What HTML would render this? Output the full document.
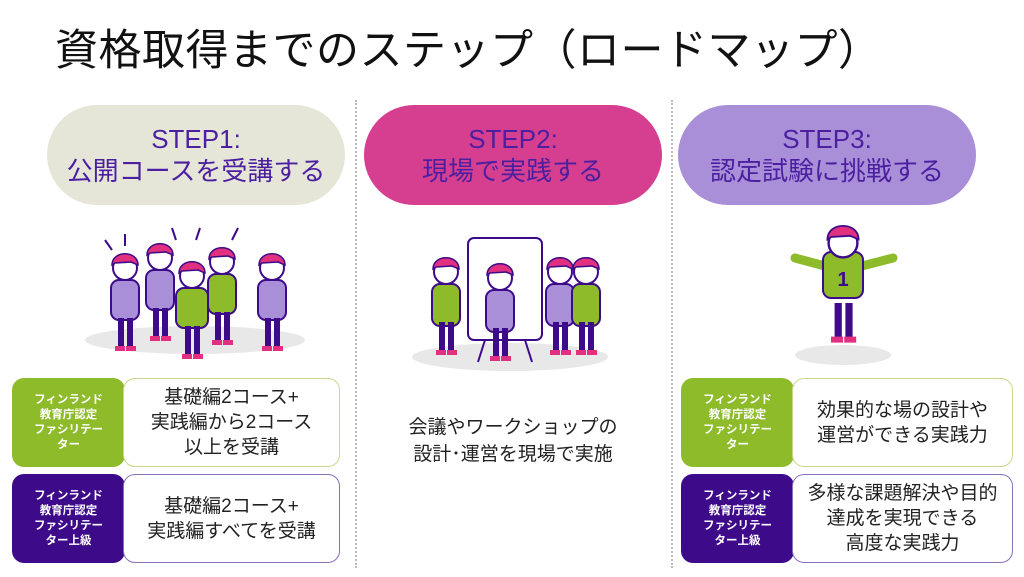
<!DOCTYPE html>
<html><head><meta charset="utf-8"><style>
body{margin:0;width:1024px;height:577px;background:#fff;position:relative;overflow:hidden;font-family:"Liberation Sans","Noto Sans CJK JP",sans-serif}
.t{position:absolute;left:55px;top:16px;font-size:43px;color:#111;letter-spacing:0.5px;white-space:nowrap}
.vl{position:absolute;top:100px;height:468px;border-left:2px dotted #bbb}
.pill{position:absolute;top:105px;height:100px;border-radius:50px;color:#4b1fa0;text-align:center;font-size:26px;line-height:32px;display:flex;flex-direction:column;justify-content:center}
.lab{position:absolute;width:113px;height:89px;border-radius:12px;color:#fff;font-size:11.5px;line-height:15px;font-weight:bold;text-align:center;display:flex;align-items:center;justify-content:center}
.box{position:absolute;height:87px;border-radius:12px;background:#fff;display:flex;align-items:center;justify-content:center;text-align:center;font-size:19px;line-height:25px;color:#222}
.g{background:#8dbb2a}.p{background:#3d0a8a}
</style></head><body>
<div class="t">資格取得までのステップ（ロードマップ）</div>
<div class="vl" style="left:355px"></div>
<div class="vl" style="left:671px"></div>
<div class="pill" style="left:47px;width:298px;background:#e6e6d8">STEP1:<br>公開コースを受講する</div>
<div class="pill" style="left:364px;width:298px;background:#d63f90">STEP2:<br>現場で実践する</div>
<div class="pill" style="left:678px;width:298px;background:#a98fd8">STEP3:<br>認定試験に挑戦する</div>

<svg style="position:absolute;left:0;top:0" width="1024" height="577">
<defs>
<g id="pp">
<circle cx="0" cy="0" r="12" fill="#fff" stroke="#3d0a8a" stroke-width="2"/>
<path d="M-13,-3 C-13,-18 13,-18 13,-3 L6,-6 L-10,-5Z" fill="#e0307f" stroke="#3d0a8a" stroke-width="1.5"/>
<rect x="-7" y="50" width="6" height="30" fill="#3d0a8a"/><rect x="2" y="50" width="6" height="30" fill="#3d0a8a"/>
<rect x="-10" y="78" width="10" height="5" fill="#e0307f"/><rect x="1" y="78" width="10" height="5" fill="#e0307f"/>
</g>
</defs>
<ellipse cx="195" cy="340" rx="110" ry="14" fill="#e8e8e8"/>
<ellipse cx="510" cy="357" rx="98" ry="14" fill="#e8e8e8"/>
<ellipse cx="843" cy="355" rx="48" ry="10" fill="#e8e8e8"/>
<g stroke="#3d0a8a" stroke-width="2">
<line x1="105" y1="240" x2="112" y2="250"/><line x1="125" y1="234" x2="125" y2="246"/><line x1="172" y1="228" x2="176" y2="240"/><line x1="200" y1="228" x2="196" y2="240"/><line x1="238" y1="228" x2="232" y2="240"/>
</g>
<g transform="translate(125,268)"><rect x="-14" y="12" width="28" height="40" rx="8" fill="#a98fd8" stroke="#3d0a8a" stroke-width="2"/><use href="#pp"/></g>
<g transform="translate(160,258)"><rect x="-14" y="12" width="28" height="40" rx="8" fill="#a98fd8" stroke="#3d0a8a" stroke-width="2"/><use href="#pp"/></g>
<g transform="translate(222,262)"><rect x="-14" y="12" width="28" height="40" rx="8" fill="#8dbb2a" stroke="#3d0a8a" stroke-width="2"/><use href="#pp"/></g>
<g transform="translate(272,268)"><rect x="-14" y="12" width="28" height="40" rx="8" fill="#a98fd8" stroke="#3d0a8a" stroke-width="2"/><use href="#pp"/></g>
<g transform="translate(192,276)"><rect x="-16" y="12" width="32" height="40" rx="8" fill="#8dbb2a" stroke="#3d0a8a" stroke-width="2"/><use href="#pp"/></g>
<rect x="468" y="238" width="74" height="102" rx="6" fill="#fff" stroke="#3d0a8a" stroke-width="2"/>
<line x1="485" y1="340" x2="478" y2="362" stroke="#3d0a8a" stroke-width="2"/><line x1="525" y1="340" x2="532" y2="362" stroke="#3d0a8a" stroke-width="2"/>
<g transform="translate(446,272)"><rect x="-14" y="12" width="28" height="42" rx="8" fill="#8dbb2a" stroke="#3d0a8a" stroke-width="2"/><use href="#pp"/></g>
<g transform="translate(500,278)"><rect x="-14" y="12" width="28" height="42" rx="8" fill="#a98fd8" stroke="#3d0a8a" stroke-width="2"/><use href="#pp"/></g>
<g transform="translate(560,272)"><rect x="-14" y="12" width="28" height="42" rx="8" fill="#a98fd8" stroke="#3d0a8a" stroke-width="2"/><use href="#pp"/></g>
<g transform="translate(586,272)"><rect x="-14" y="12" width="28" height="42" rx="8" fill="#8dbb2a" stroke="#3d0a8a" stroke-width="2"/><use href="#pp"/></g>
<path d="M795,258 L825,266 M893,258 L862,266" stroke="#8dbb2a" stroke-width="9" stroke-linecap="round"/>
<g transform="translate(843,238)"><rect x="-20" y="14" width="40" height="46" rx="8" fill="#8dbb2a" stroke="#3d0a8a" stroke-width="2"/><text x="0" y="48" font-size="20" font-weight="bold" fill="#3d0a8a" text-anchor="middle" font-family="Liberation Sans">1</text><g transform="translate(0,5) scale(1.2)"><use href="#pp"/></g></g>
</svg>

<div class="lab g" style="left:12px;top:378px">フィンランド<br>教育庁認定<br>ファシリテー<br>ター</div>
<div class="box" style="left:123px;top:378px;width:215px;border:1px solid #c9d88a">基礎編2コース+<br>実践編から2コース<br>以上を受講</div>
<div class="lab p" style="left:12px;top:474px">フィンランド<br>教育庁認定<br>ファシリテー<br>ター上級</div>
<div class="box" style="left:123px;top:474px;width:215px;border:1px solid #8a70c0">基礎編2コース+<br>実践編すべてを受講</div>

<div style="position:absolute;left:364px;width:298px;top:414px;text-align:center;font-size:19px;line-height:27px;color:#222">会議やワークショップの<br>設計･運営を現場で実施</div>

<div class="lab g" style="left:681px;top:378px">フィンランド<br>教育庁認定<br>ファシリテー<br>ター</div>
<div class="box" style="left:792px;top:378px;width:219px;border:1px solid #c9d88a">効果的な場の設計や<br>運営ができる実践力</div>
<div class="lab p" style="left:681px;top:474px">フィンランド<br>教育庁認定<br>ファシリテー<br>ター上級</div>
<div class="box" style="left:792px;top:474px;width:219px;border:1px solid #8a70c0">多様な課題解決や目的<br>達成を実現できる<br>高度な実践力</div>
</body></html>
